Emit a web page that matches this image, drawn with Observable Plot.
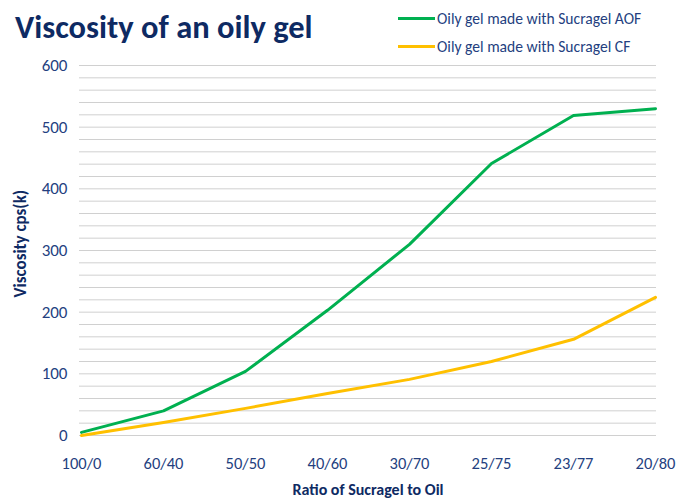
<!DOCTYPE html>
<html>
<head>
<meta charset="utf-8">
<script src="https://cdn.jsdelivr.net/npm/d3@7"></script>
<script src="https://cdn.jsdelivr.net/npm/@observablehq/plot@0.6"></script>
<style>
  html, body { margin: 0; padding: 0; background: #fff; }
  #wrap { position: relative; width: 688px; height: 501px; font-family: Carlito, Lato, sans-serif; }
  #title { position: absolute; left: 15px; top: 8px; font-size: 32.5px; line-height: 38px; font-weight: bold; color: #0E2A63; white-space: nowrap; }
  #legend { position: absolute; left: 398px; top: 8px; font-size: 15.6px; color: #243F7F; }
  .row { display: flex; align-items: center; height: 20px; margin-bottom: 8px; white-space: nowrap; }
  .sw { width: 37px; height: 3px; margin-right: 2px; }
</style>
</head>
<body>
<div id="wrap">
  <div id="chart"></div>
  <div id="title">Viscosity of an oily gel</div>
  <div id="legend"></div>
</div>
<script>
const ratios = ["100/0", "60/40", "50/50", "40/60", "30/70", "25/75", "23/77", "20/80"];
const aof = [5, 40, 104, 203, 310, 441, 519, 530];
const cf = [0, 21, 44, 68, 91, 120, 156, 224];
const seriesNames = ["Oily gel made with Sucragel AOF", "Oily gel made with Sucragel CF"];
const seriesColors = ["#00B050", "#FFC000"];
const yTicks = [0, 100, 200, 300, 400, 500, 600];
const gridVals = d3.range(0, 601, 20);

const rows = [];
ratios.forEach((r, i) => {
  rows.push({ ratio: r, value: aof[i], series: seriesNames[0] });
  rows.push({ ratio: r, value: cf[i], series: seriesNames[1] });
});

const chart = Plot.plot({
  width: 688,
  height: 501,
  marginLeft: 79,
  marginRight: 32,
  marginTop: 65,
  marginBottom: 66,
  style: { fontFamily: "Carlito, Lato, sans-serif", background: "#fff" },
  x: { type: "point", domain: ratios, padding: 0, label: null },
  y: { domain: [0, 600], label: null },
  color: { domain: seriesNames, range: seriesColors },
  marks: [
    Plot.ruleY(gridVals, { stroke: "#D0D0D0", strokeWidth: 1 }),
    Plot.axisY(yTicks, { tickSize: 0, tickPadding: 12, fontSize: 17, fill: "#243F7F", label: null }),
    Plot.axisX({ tickSize: 0, tickPadding: 22, fontSize: 16.5, fill: "#243F7F", label: null }),
    Plot.line(rows, { x: "ratio", y: "value", z: "series", stroke: "series", strokeWidth: 3 }),
    Plot.text([{ label: "Viscosity cps(k)", y: 311 }], { text: "label", y: "y", frameAnchor: "left", textAnchor: "middle", dx: -59, rotate: -90, fontSize: 17, fontWeight: "bold", fill: "#0E2A63" }),
    Plot.text(["Ratio of Sucragel to Oil"], { frameAnchor: "bottom", dy: 59, fontSize: 16, fontWeight: "bold", fill: "#0E2A63" })
  ]
});
document.getElementById("chart").appendChild(chart);

const legend = document.getElementById("legend");
seriesNames.forEach((n, i) => {
  const row = document.createElement("div");
  row.className = "row";
  const sw = document.createElement("div");
  sw.className = "sw";
  sw.style.background = seriesColors[i];
  const t = document.createElement("span");
  t.textContent = n;
  row.appendChild(sw);
  row.appendChild(t);
  legend.appendChild(row);
});
</script>
</body>
</html>
